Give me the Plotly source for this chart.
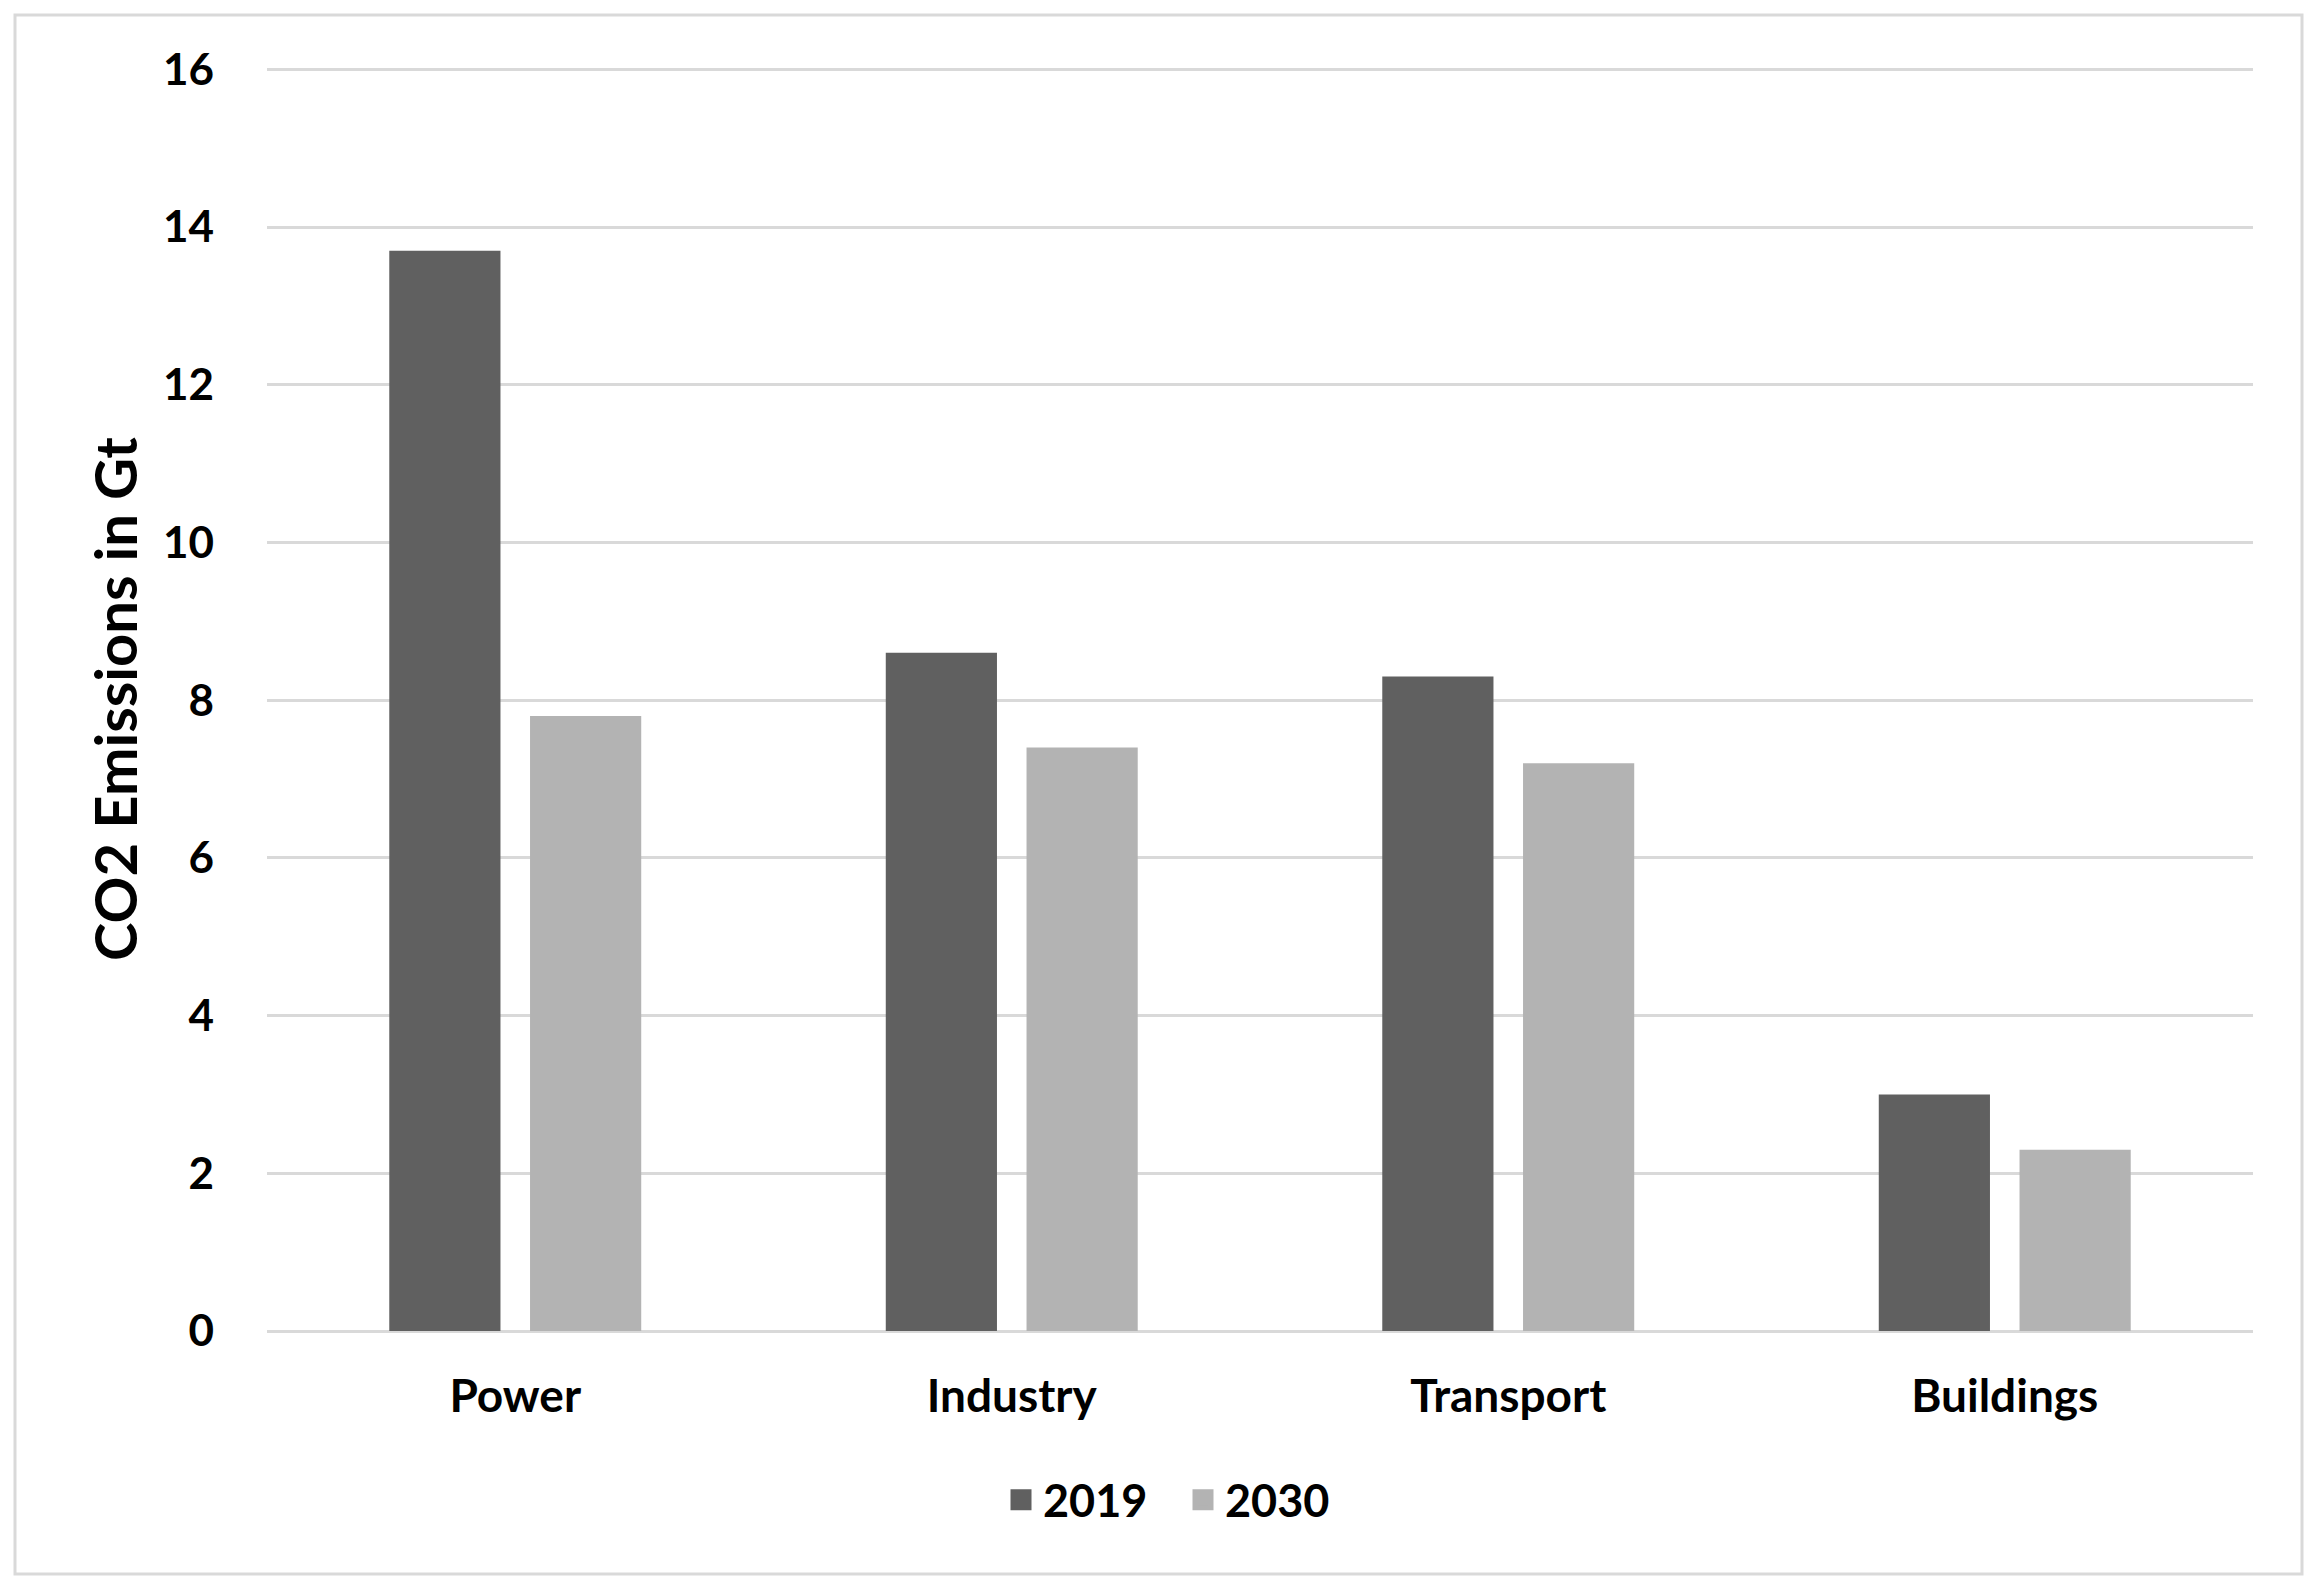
import plotly.graph_objects as go

categories = ["Power", "Industry", "Transport", "Buildings"]
series_names = ["2019", "2030"]
values_2019 = [13.7, 8.6, 8.3, 3.0]
values_2030 = [7.8, 7.4, 7.2, 2.3]
series_colors = ["#606060", "#b3b3b3"]
y_ticks = [0, 2, 4, 6, 8, 10, 12, 14, 16]

W, H = 2323, 1593
L, R, T, B = 259, 78, 59, 270
FONT = "Lato"

fig = go.Figure()
for name, vals, col in zip(series_names, [values_2019, values_2030], series_colors):
    fig.add_trace(go.Bar(name=name, x=categories, y=vals, showlegend=False,
                         marker=dict(color=col, line=dict(width=0))))
# legend entries with square swatches
for name, col in zip(series_names, series_colors):
    fig.add_trace(go.Scatter(name="<b>%s</b>" % name, x=[None], y=[None], mode="markers",
                             marker=dict(symbol="square", size=16, color=col,
                                         line=dict(color=col, width=6)),
                             showlegend=True))

def px_to_paper_x(px):
    return (px - L) / (W - L - R)

def px_to_paper_y(py):
    return 1 - (py - T) / (H - T - B)

fig.add_shape(type="rect", xref="paper", yref="paper",
              x0=px_to_paper_x(7), x1=px_to_paper_x(2294),
              y0=px_to_paper_y(1566), y1=px_to_paper_y(7),
              line=dict(color="#d9d9d9", width=3), fillcolor="rgba(0,0,0,0)",
              layer="below")

fig.update_layout(
    width=W, height=H,
    margin=dict(l=L, r=R, t=T, b=B),
    paper_bgcolor="white", plot_bgcolor="white",
    barmode="group", bargap=0.433, bargroupgap=0.21,
    font=dict(family=FONT, color="black", size=44),
    showlegend=True,
    legend=dict(orientation="h", x=px_to_paper_x(1173), xanchor="center",
                y=px_to_paper_y(1492), yanchor="middle",
                font=dict(family=FONT, size=45, color="black"),
                traceorder="normal", itemwidth=34, tracegroupgap=0,
                entrywidth=133, entrywidthmode="pixels"),
    xaxis=dict(showgrid=False, showline=False, ticks="",
               tickfont=dict(family=FONT, size=46, color="black"),
               ticklabelstandoff=34),
    yaxis=dict(range=[0, 16.03], tickvals=y_ticks, showgrid=True,
               gridcolor="#d9d9d9", gridwidth=3, zeroline=True,
               zerolinecolor="#d9d9d9", zerolinewidth=3, showline=False,
               ticks="", tickfont=dict(family=FONT, size=44, color="black"),
               ticklabelstandoff=52,
               title=dict(text="<b>CO2 Emissions in Gt</b>", standoff=6,
                          font=dict(family=FONT, size=58, color="black"))),
)
fig.update_xaxes(tickvals=categories, ticktext=["<b>%s</b>" % c for c in categories])
fig.update_yaxes(ticktext=["<b>%d</b>" % v for v in y_ticks])

fig.write_html("out.html")
